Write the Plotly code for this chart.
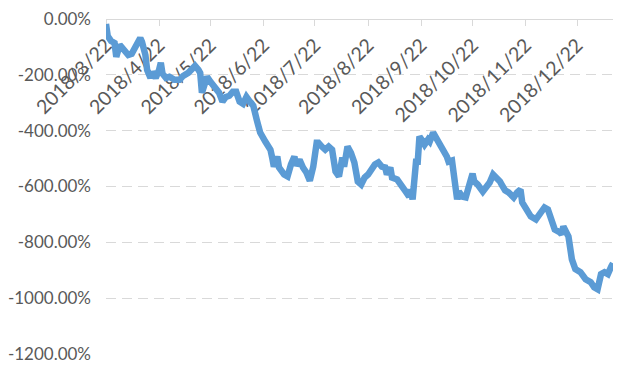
import plotly.graph_objects as go

# ---- data ----
dates = [
    "2018-03-22", "2018-03-23", "2018-03-25", "2018-03-27", "2018-03-28", "2018-03-30", "2018-03-31",
    "2018-04-02", "2018-04-04", "2018-04-06", "2018-04-07", "2018-04-09", "2018-04-11", "2018-04-12",
    "2018-04-14", "2018-04-15", "2018-04-17", "2018-04-18", "2018-04-20", "2018-04-22", "2018-04-23",
    "2018-04-24", "2018-04-26", "2018-04-28",
    "2018-05-01", "2018-05-04", "2018-05-06", "2018-05-09", "2018-05-11", "2018-05-13", "2018-05-15",
    "2018-05-16", "2018-05-17", "2018-05-19", "2018-05-20", "2018-05-22", "2018-05-25", "2018-05-27",
    "2018-05-29", "2018-05-31",
    "2018-06-02", "2018-06-04", "2018-06-06", "2018-06-08", "2018-06-10", "2018-06-12", "2018-06-14",
    "2018-06-16", "2018-06-18", "2018-06-20", "2018-06-23", "2018-06-26", "2018-06-27", "2018-06-28",
    "2018-06-30",
    "2018-07-01", "2018-07-04", "2018-07-06", "2018-07-08", "2018-07-10", "2018-07-11", "2018-07-13",
    "2018-07-15", "2018-07-17", "2018-07-19", "2018-07-21", "2018-07-23", "2018-07-24", "2018-07-26",
    "2018-07-28", "2018-07-30",
    "2018-08-01", "2018-08-03", "2018-08-05", "2018-08-07", "2018-08-08", "2018-08-10", "2018-08-12",
    "2018-08-14", "2018-08-16", "2018-08-18", "2018-08-20", "2018-08-22", "2018-08-23", "2018-08-26",
    "2018-08-28", "2018-08-30",
    "2018-09-01", "2018-09-02", "2018-09-04", "2018-09-05", "2018-09-08", "2018-09-09", "2018-09-11",
    "2018-09-13", "2018-09-15", "2018-09-16", "2018-09-17", "2018-09-18", "2018-09-19", "2018-09-20",
    "2018-09-21", "2018-09-23", "2018-09-24", "2018-09-26", "2018-09-27", "2018-09-29",
    "2018-10-01", "2018-10-04", "2018-10-07", "2018-10-08", "2018-10-10", "2018-10-11", "2018-10-13",
    "2018-10-14", "2018-10-16", "2018-10-18", "2018-10-20", "2018-10-22", "2018-10-23", "2018-10-25",
    "2018-10-28", "2018-10-30",
    "2018-11-01", "2018-11-03", "2018-11-05", "2018-11-07", "2018-11-08", "2018-11-10", "2018-11-12",
    "2018-11-14", "2018-11-15", "2018-11-17", "2018-11-19", "2018-11-20", "2018-11-22", "2018-11-25",
    "2018-11-28", "2018-11-30",
    "2018-12-03", "2018-12-05", "2018-12-07", "2018-12-09", "2018-12-12", "2018-12-13", "2018-12-14",
    "2018-12-16", "2018-12-17", "2018-12-19", "2018-12-21", "2018-12-24", "2018-12-27", "2018-12-30",
    "2019-01-01", "2019-01-03", "2019-01-05", "2019-01-07", "2019-01-09", "2019-01-11", "2019-01-12",
]

values_pct = [
    -18, -61, -79, -86, -136, -93, -100,
    -118, -129, -125, -111, -86, -68, -82, -129, -182, -211, -189, -211, -182, -157, -196, -211, -207,
    -218, -218, -204, -193, -182, -168, -182, -193, -264, -225, -207, -225, -246, -264, -296, -279,
    -275, -261, -261, -296, -304, -279, -296, -311, -361, -407, -439, -468, -496, -529, -493,
    -532, -557, -564, -521, -493, -525, -504, -532, -550, -579, -529, -443, -443, -457, -468, -457,
    -468, -546, -564, -496, -529, -457, -479, -514, -582, -593, -568, -557, -546, -521, -514, -529,
    -532, -557, -532, -568, -575, -582, -596, -618, -636, -611, -646, -546, -511, -511, -421, -439,
    -450, -432, -439, -407,
    -425, -461, -493, -511, -507, -557, -646, -618, -636, -639, -604, -554, -582, -593, -618, -604,
    -586, -557, -568, -582, -593, -614, -621, -629, -639, -621, -611, -657, -675, -707, -718, -700,
    -675, -682, -729, -754, -764, -771, -743, -771, -779, -861, -896, -907, -932, -943,
    -961, -968, -914, -907, -914, -886, -875,
]

x_tick_dates = ["2018-03-22", "2018-04-22", "2018-05-22", "2018-06-22", "2018-07-22",
                "2018-08-22", "2018-09-22", "2018-10-22", "2018-11-22", "2018-12-22"]
x_tick_labels = ["2018/3/22", "2018/4/22", "2018/5/22", "2018/6/22", "2018/7/22",
                 "2018/8/22", "2018/9/22", "2018/10/22", "2018/11/22", "2018/12/22"]

y_tick_vals = [0, -200, -400, -600, -800, -1000, -1200]
y_tick_labels = ["0.00%", "-200.00%", "-400.00%", "-600.00%", "-800.00%", "-1000.00%", "-1200.00%"]

x_range = ["2018-03-22", "2019-01-12"]
y_range = [-1200, 0]

LABEL_COLOR = "#595959"
GRID_COLOR = "#d9d9d9"
FONT = "Lato, 'Open Sans', sans-serif"

fig = go.Figure()
fig.add_trace(go.Scatter(
    x=dates, y=values_pct, mode="lines",
    line=dict(color="#5B9BD5", width=6.5, shape="linear"),
    hoverinfo="skip", showlegend=False,
))

fig.update_layout(
    width=624, height=375,
    margin=dict(l=106, r=11, t=19, b=21),
    paper_bgcolor="white", plot_bgcolor="white",
    font=dict(family=FONT, size=18, color=LABEL_COLOR),
    showlegend=False,
    xaxis=dict(
        type="date", range=x_range,
        anchor="free", position=1, side="bottom",
        tickmode="array", tickvals=x_tick_dates, ticktext=x_tick_labels,
        tickangle=-45,
        showgrid=False, zeroline=False,
        showline=True, linecolor=GRID_COLOR, linewidth=1.3,
        ticks="outside", ticklen=6, tickcolor=GRID_COLOR, tickwidth=1.3,
        tickfont=dict(family=FONT, size=19.5, color=LABEL_COLOR),
        layer="below traces", automargin=False,
    ),
    yaxis=dict(
        range=y_range, domain=[0, 1],
        tickmode="array", tickvals=y_tick_vals, ticktext=y_tick_labels,
        showgrid=True, gridcolor=GRID_COLOR, gridwidth=1.3, griddash="10px,6px",
        zeroline=False, showline=False, ticks="",
        ticklabelstandoff=14,
        tickfont=dict(family=FONT, size=17, color=LABEL_COLOR),
        automargin=False,
    ),
)

fig.write_html("out.html")
